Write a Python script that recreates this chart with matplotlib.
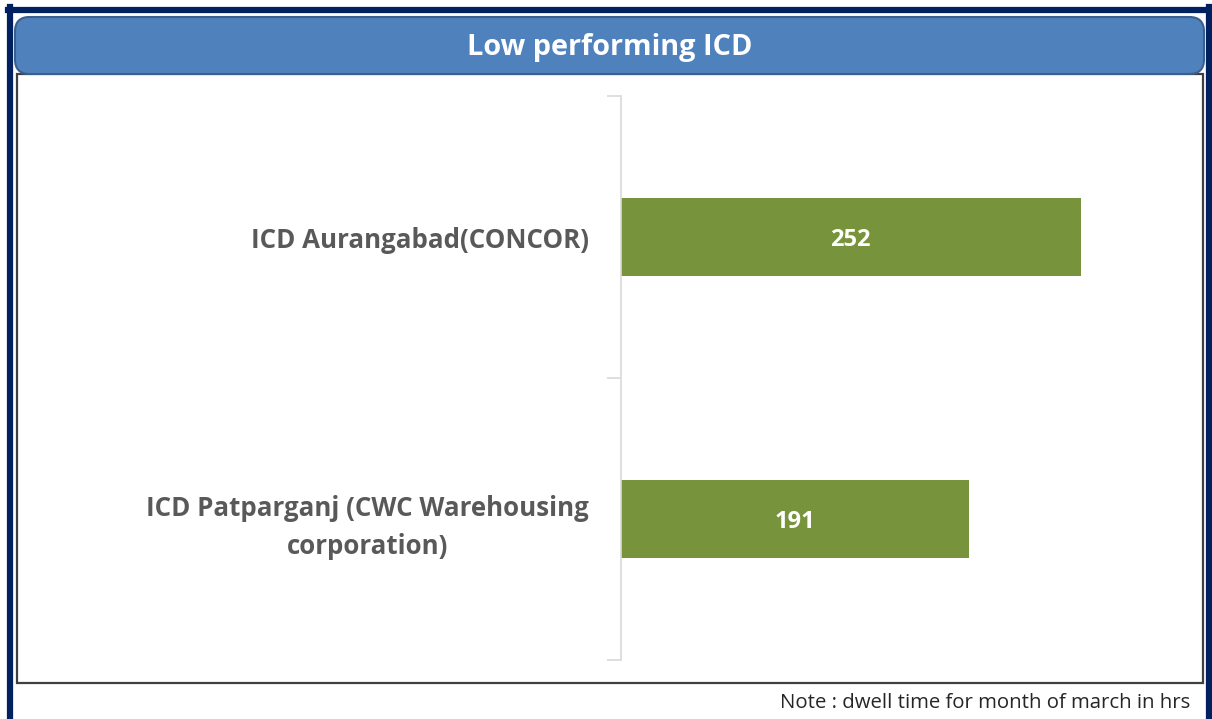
import matplotlib.pyplot as plt
from matplotlib.patches import FancyBboxPatch, Rectangle
from matplotlib.lines import Line2D

# Chart data
categories = ['ICD Aurangabad(CONCOR)', 'ICD Patparganj (CWC Warehousing\ncorporation)']
dwell_hours = [252, 191]

title = 'Low performing ICD'
note = 'Note : dwell time for month of march in hrs'

W, H = 1212, 719
fig = plt.figure(figsize=(W / 100, H / 100), dpi=100)
plt.rcParams['font.family'] = ['Open Sans', 'DejaVu Sans']


def fx(px):
    return px / W


def fy(py):
    return 1 - py / H


# Outer navy frame (top, left, right)
navy = '#002060'
fig.add_artist(Line2D([fx(10), fx(10)], [fy(7), 0], color=navy, lw=4.5, zorder=-2))
fig.add_artist(Line2D([fx(1209), fx(1209)], [fy(7), 0], color=navy, lw=4.5, zorder=-2))
fig.add_artist(Line2D([fx(8), fx(1211)], [fy(9.5), fy(9.5)], color=navy, lw=4.5, zorder=-2))

# Inner chart box
fig.add_artist(Rectangle((fx(17), fy(683)), fx(1203) - fx(17), fy(74) - fy(683),
                         facecolor='white', edgecolor='#404040', lw=1.6, zorder=-1))

# Blue title header
fig.add_artist(FancyBboxPatch((fx(15), fy(74)), fx(1204) - fx(15), fy(17) - fy(74),
                              boxstyle='round,pad=0,rounding_size=0.012',
                              mutation_aspect=W / H,
                              facecolor='#4F81BD', edgecolor='#3A5F8C', lw=1.5))
fig.text(fx(610), fy(47), title, ha='center', va='center', color='white',
         fontsize=20.8, fontweight='bold')

# Bar axes
xmax = 312
ax = fig.add_axes([fx(621), fy(660), fx(1190) - fx(621), fy(96) - fy(660)])
ax.set_zorder(5)
ax.set_facecolor('none')
y = list(range(len(categories)))
bars = ax.barh(y, dwell_hours, height=0.277, color='#77933C', zorder=2)
ax.set_xlim(0, xmax)
ax.set_ylim(len(categories) - 0.5, -0.5)

for spine in ['top', 'right', 'bottom']:
    ax.spines[spine].set_visible(False)
ax.spines['left'].set_color('#D9D9D9')
ax.spines['left'].set_linewidth(1.2)
ax.set_xticks([])

# Category boundary ticks (major) and labels (minor)
ax.set_yticks([i - 0.5 for i in range(len(categories) + 1)])
ax.set_yticklabels([])
ax.tick_params(axis='y', which='major', length=10, color='#D9D9D9', width=1.2)
ax.set_yticks(y, minor=True)
ax.set_yticklabels(categories, minor=True, fontsize=18.6, fontweight='bold',
                   color='#595959', multialignment='center', linespacing=1.5)
ax.tick_params(axis='y', which='minor', length=0, pad=23)

for bar, val in zip(bars, dwell_hours):
    ax.text(bar.get_width() / 2, bar.get_y() + bar.get_height() / 2, str(val),
            ha='center', va='center_baseline', color='white', fontsize=17,
            fontweight='bold')

fig.text(fx(1190), fy(703), note, ha='right', va='center', color='#262626', fontsize=14.7)

fig.savefig('out.png', dpi=100)
